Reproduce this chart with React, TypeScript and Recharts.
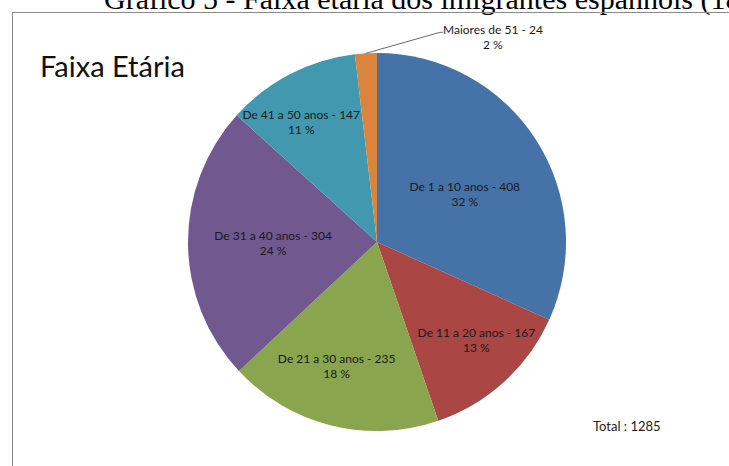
import React from 'react';
import { PieChart, Pie, Cell } from 'recharts';

// age groups, counts
const faixas = [
    'De 1 a 10 anos',
    'De 11 a 20 anos',
    'De 21 a 30 anos',
    'De 31 a 40 anos',
    'De 41 a 50 anos',
    'Maiores de 51',
];
const imigrantes = [408, 167, 235, 304, 147, 24];
const cores = ['#4572A7', '#AA4643', '#89A54E', '#71588F', '#4198AF', '#DB843D'];

// label placement inside each slice (fraction of radius, degrees off the mid angle)
// mimics Excel's "best fit" labels
const labelRadius = [0.53, 0.74, 0.69, 0.55, 0.75];
const labelTurn = [-4, 3, -4, 0, 5];

const total = imigrantes.reduce((a, b) => a + b, 0);
const data = faixas.map((name, i) => ({ name, value: imigrantes[i] }));

const RADIAN = Math.PI / 180;
const labelFont = 'Lato, "Open Sans", sans-serif';

const renderLabel = (props: any) => {
    const { cx, cy, midAngle, outerRadius, index, name, value } = props;
    const pct = `${Math.round((value / total) * 100)} %`;

    if (index === faixas.length - 1) {
        // small slice: label outside with a leader line
        const sx = cx + outerRadius * Math.cos(-midAngle * RADIAN);
        const sy = cy + outerRadius * Math.sin(-midAngle * RADIAN);
        const ex = sx + 74;
        const ey = sy - 21;
        return (
            <g>
                <polyline points={`${sx},${sy} ${ex},${ey} ${ex + 3},${ey}`} stroke="#6b6b6b" fill="none" strokeWidth={1} />
                <text x={ex + 53} y={ey + 2} textAnchor="middle" fontSize={12} fontFamily={labelFont} fill="#1a1a1a">
                    <tspan x={ex + 53} dy={0}>{`${name} - ${value}`}</tspan>
                    <tspan x={ex + 53} dy={15}>{pct}</tspan>
                </text>
            </g>
        );
    }

    const a = (midAngle + labelTurn[index]) * RADIAN;
    const r = outerRadius * labelRadius[index];
    const x = cx + r * Math.cos(-a);
    const y = cy + r * Math.sin(-a);
    return (
        <text x={x} y={y} textAnchor="middle" fontSize={12} fontFamily={labelFont} fill="#1a1a1a">
            <tspan x={x} dy={-3}>{`${name} - ${value}`}</tspan>
            <tspan x={x} dy={15}>{pct}</tspan>
        </text>
    );
};

export default function App() {
    return (
        <div style={{ position: 'absolute', left: 0, top: 0, width: 729, height: 466, overflow: 'hidden', background: '#fff' }}>
            {/* figure caption, cut off at the top like the scan */}
            <div
                style={{
                    position: 'absolute',
                    left: 104,
                    top: -18,
                    fontFamily: '"Liberation Serif", "Times New Roman", serif',
                    fontSize: 30,
                    whiteSpace: 'nowrap',
                    color: '#000',
                    lineHeight: '34px',
                }}
            >
                Gráfico 5 - Faixa etária dos imigrantes espanhóis (18
            </div>
            {/* chart frame */}
            <div
                style={{
                    position: 'absolute',
                    left: 12,
                    top: 12,
                    width: 800,
                    height: 500,
                    borderLeft: '1px solid #8a8a8a',
                    borderTop: '1px solid #8a8a8a',
                }}
            />
            <div
                style={{
                    position: 'absolute',
                    left: 40,
                    top: 48,
                    fontFamily: labelFont,
                    fontSize: 29,
                    color: '#111',
                    whiteSpace: 'nowrap',
                }}
            >
                Faixa Etária
            </div>
            <div
                style={{
                    position: 'absolute',
                    left: 593,
                    top: 418,
                    fontFamily: labelFont,
                    fontSize: 13,
                    color: '#222',
                    whiteSpace: 'nowrap',
                }}
            >
                Total : {total}
            </div>
            <div style={{ position: 'absolute', left: 0, top: 0 }}>
                <PieChart width={729} height={466} margin={{ top: 0, right: 0, bottom: 0, left: 0 }}>
                    <Pie
                        data={data}
                        dataKey="value"
                        nameKey="name"
                        cx={377}
                        cy={242}
                        outerRadius={189}
                        startAngle={90}
                        endAngle={-270}
                        stroke="none"
                        label={renderLabel}
                        labelLine={false}
                        isAnimationActive={false}
                    >
                        {data.map((d, i) => (
                            <Cell key={d.name} fill={cores[i]} />
                        ))}
                    </Pie>
                </PieChart>
            </div>
        </div>
    );
}
